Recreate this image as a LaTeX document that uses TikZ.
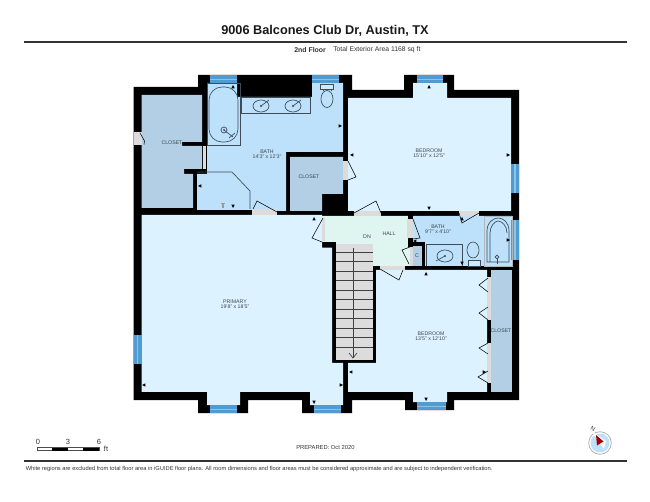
\documentclass[tikz,border=0pt]{standalone}
\usepackage{fontspec}
\setmainfont{Liberation Sans}
\definecolor{roomc}{HTML}{DCF2FF}
\definecolor{bathc}{HTML}{BDE0FB}
\definecolor{closetc}{HTML}{B2CFE6}
\definecolor{hallc}{HTML}{DFF5F0}
\definecolor{doorc}{HTML}{DCDCDC}
\definecolor{winc}{HTML}{4F9BD2}
\definecolor{winl}{HTML}{8CC4E6}
\definecolor{labelc}{HTML}{3A4650}
\definecolor{rulec}{HTML}{333333}
\definecolor{fixc}{HTML}{3C4C58}
\tikzset{
  x=0.75pt,y=-0.75pt,
  room/.style={fill=roomc},
  bathroom/.style={fill=bathc},
  closetroom/.style={fill=closetc},
  doorgap/.style={fill=doorc},
  leaf/.style={draw=black,line width=0.4pt},
  fixture/.style={draw=fixc,line width=0.5pt},
  rulerline/.style={draw=rulec,line width=1.3pt},
  lbl/.style={text=labelc,inner sep=0pt,font=\fontsize{3.9}{4}\selectfont},
  txt/.style={text=black!80,inner sep=0pt,font=\fontsize{5.1}{6}\selectfont},
  tread/.style={draw=black!75,line width=0.5pt}
}
\newcommand{\mk}[3]{\fill[black,shift={(#1,#2)},rotate=#3] (0,-2) -- (1.7,1.4) -- (-1.7,1.4) -- cycle;}
\newcommand{\winh}[3]{\fill[winc] (#1,#3) rectangle (#2,#3+7.5); \fill[winl] (#1,#3+3.2) rectangle (#2,#3+4.3);}
\newcommand{\winv}[3]{\fill[winc] (#3,#1) rectangle (#3+8,#2); \fill[winl] (#3+3.4,#1) rectangle (#3+4.6,#2);}
\begin{document}
\begin{tikzpicture}
\useasboundingbox (0,0) rectangle (650,502);
\fill[white] (0,0) rectangle (650,502);
% heading
\node[inner sep=0pt,font=\bfseries\fontsize{9.55}{11}\selectfont,text=black!90] (title) at (325,31) {9006 Balcones Club Dr, Austin, TX};
\draw[rulerline] (24,42) -- (627,42);
\node[txt,anchor=west,font=\bfseries\fontsize{5.2}{6}\selectfont] (floor) at (294,50) {2nd Floor};
\node[txt,anchor=west] (area) at (333,50) {Total Exterior Area 1168 sq ft};
% shell
\fill[black] (133.5,87) -- (198,87) -- (198,75) -- (352,75) -- (352,90) -- (404,90) -- (404,75) -- (454,75) -- (454,90) -- (519,90) -- (519,400) -- (454,400) -- (454,410) -- (405,410) -- (405,400) -- (352,400) -- (352,413) -- (302,413) -- (302,400) -- (248,400) -- (248,413) -- (198,413) -- (198,400) -- (133.5,400) -- cycle;
% rooms
\fill[closetroom] (141.7,95) -- (202,95) -- (202,142) -- (182,142) -- (182,146) -- (202,146) -- (202,169) -- (184,169) -- (184,174) -- (193,174) -- (193,208) -- (141.7,208) -- cycle;
\fill[bathroom] (207,83) -- (237,83) -- (237,97) -- (312,97) -- (312,83) -- (343,83) -- (343,152) -- (286,152) -- (286,211) -- (252,210) -- (197,210) -- (197,174) -- (207,174) -- cycle;
\fill[closetroom] (290,157) -- (343,157) -- (343,194) -- (322,194) -- (322,211) -- (290,211) -- cycle;
\fill[room] (348,98) -- (413,98) -- (413,83) -- (447,83) -- (447,98) -- (511,98) -- (511,211) -- (348,211) -- cycle;
\fill[room] (141.7,215) -- (322,215) -- (322,247.7) -- (332,247.7) -- (332,363) -- (343,363) -- (343,405) -- (310,405) -- (310,392) -- (240,392) -- (240,405) -- (207,405) -- (207,392) -- (141.7,392) -- cycle;
\fill[fill=hallc] (322,216) -- (408,216) -- (408,240) -- (410,247) -- (410,266) -- (373,266) -- (373,244) -- (336,244) -- (336,242) -- (322,242) -- cycle;
\fill[bathroom] (413,216) -- (512,216) -- (512,266) -- (425,266) -- (425,242) -- (413,242) -- cycle;
\fill[closetroom] (413,246) -- (421.5,246) -- (421.5,266) -- (413,266) -- cycle;
\fill[room] (376,270) -- (487,270) -- (487,392) -- (447,392) -- (447,402) -- (413,402) -- (413,392) -- (348,392) -- (348,363) -- (376,363) -- cycle;
\fill[closetroom] (491,270) -- (512,270) -- (512,392) -- (491,392) -- cycle;
% small wall patches
\fill[black] (408,216) rectangle (413,219);
\fill[black] (408,239) rectangle (413,247);
% stairs
\fill[doorc] (336,244) rectangle (372.5,360);
\foreach \yy in {252,261.5,271,280.5,290,299.5,309,318.5,328,337.5,347} \draw[tread] (336,\yy) -- (372.5,\yy);
\draw[tread] (353,248) -- (353,358);
\draw[tread] (349,353) -- (353,358) -- (357,353);
% windows
\winh{210}{237}{75.5}
\winh{312}{339}{75.5}
\winh{417}{443}{75.5}
\winh{210}{237}{405.3}
\winh{314}{341}{405.3}
\winh{417}{446}{402.3}
\winv{164}{193}{511}
\winv{220}{260}{511}
\winv{335}{364}{133.6}
% door openings
\fill[doorgap] (133.5,132) rectangle (141.7,145);
\fill[doorgap] (202.5,146) rectangle (206,169);
\fill[doorgap] (252,209) -- (277,209) -- (277,215) -- (252,215) -- cycle;
\fill[doorgap] (343,161) rectangle (348,180);
\fill[doorgap] (354,211) rectangle (381,216);
\fill[doorgap] (459,211) rectangle (479,216);
\fill[doorgap] (322,218) rectangle (325,242);
\fill[doorgap] (407,219.5) rectangle (413,238.5);
\fill[doorgap] (410,247) rectangle (413,266);
\fill[doorgap] (380,266) rectangle (405,270);
\fill[doorgap] (487,277) rectangle (491,320);
\fill[doorgap] (487,343) rectangle (491,383);
% door leaves
\draw[leaf] (140,133) -- (144.5,141) -- (144,144.5);
\draw[leaf] (253,209) -- (257,201) -- (277,212);
\draw[leaf] (348,161) -- (356,177) -- (348,180);
\draw[leaf] (354,213) -- (376,201) -- (381,213);
\draw[leaf] (323,218) -- (312,238) -- (322,242);
\draw[leaf] (413,219) -- (420,238) -- (413,239);
\draw[leaf] (479,213) -- (462,223) -- (459,213);
\draw[leaf] (410,247) -- (402,250) -- (409,264);
\draw[leaf] (380,269) -- (399,280) -- (403,270);
\draw[leaf] (488,278) -- (479,285) -- (488,292);
\draw[leaf] (488,307) -- (479,313) -- (488,320);
\draw[leaf] (488,343) -- (479,348) -- (488,354);
\draw[leaf] (488,371) -- (478,377) -- (488,383);
% fixtures bath 1
\draw[fixture] (207,83) rectangle (240,145);
\draw[fixture,rounded corners=9.75pt] (209,87) rectangle (238,142);
\draw[fixture] (224,130) circle (3);
\fill[fixc] (224,130) circle (1);
\draw[fixture] (224,130) -- (233,137);
\draw[fixture] (229,138) -- (235,133);
\draw[fixture] (241,97) rectangle (310,113);
\foreach \cx in {261,293}{
  \draw[fixture] (\cx,106) ellipse (8 and 6);
  \fill[fixc] (\cx,106) circle (1.1);
  \draw[fixture] (\cx,106) -- (\cx+8,100);
}
\draw[fixture,fill=bathc!70!white] (320,84) rectangle (333,89);
\draw[fixture] (327,99) ellipse (6 and 8.5);
\draw[fixture] (323,89) -- (323,91.5);
\draw[fixture] (331,89) -- (331,91.5);
\draw[fixture] (197,172) -- (232,172) -- (250,191) -- (250,209);
\draw[draw=black!40,line width=0.8pt] (223,203) -- (223,208);
\draw[draw=black!40,line width=0.5pt] (221,203) -- (225,203);
% fixtures bath 2
\draw[draw=white!60!fixc,line width=0.5pt] (484,216) rectangle (512,266);
\draw[fixture] (487,262) -- (487,231) .. controls (487,222) and (494,218) .. (498,218) .. controls (503,218) and (509,222) .. (509,231) -- (509,262) -- cycle;
\draw[fixture] (490,262) -- (490,233) .. controls (490,226) and (495,221) .. (498,221) .. controls (502,221) and (507,226) .. (507,233);
\draw[fixture] (497,257) circle (1.8);
\draw[fixture] (497,259) -- (497,264);
\draw[fixture] (426,266) -- (426,244) -- (462,244) -- (462,266);
\draw[fixture] (445,256) ellipse (8 and 6);
\fill[fixc] (445,256) circle (1.1);
\draw[fixture] (445,256) -- (436,261);
\draw[fixture] (473,250) ellipse (6 and 8);
\draw[fixture,fill=bathc!70!white] (468,260) rectangle (480,266);
% position marks
\mk{233}{87}{0}
\mk{340}{126}{-90}
\mk{352}{155}{90}
\mk{200}{186}{90}
\mk{233}{206}{180}
\mk{314}{219}{0}
\mk{429}{87}{0}
\mk{508}{155}{-90}
\mk{429}{208}{180}
\mk{462}{219}{0}
\mk{415}{241}{90}
\mk{508}{240}{-90}
\mk{426}{274}{0}
\mk{462}{263}{180}
\mk{351}{372}{90}
\mk{144}{385}{90}
\mk{341}{385}{-90}
\mk{314}{402}{180}
\mk{426}{399}{180}
\mk{484}{372}{-90}
% room labels
\node[lbl] (closeta) at (172,143) {CLOSET};
\node[lbl] (batha) at (267,152) {BATH};
\node[lbl] (bathadim) at (267,157) {14'3" x 12'3"};
\node[lbl] (closetb) at (309,177) {CLOSET};
\node[lbl] (beda) at (429,151) {BEDROOM};
\node[lbl] (bedadim) at (429,156) {15'10" x 12'5"};
\node[lbl] (hall) at (389,234) {HALL};
\node[lbl] (dn) at (367,237) {DN};
\node[lbl] (bathb) at (438,227) {BATH};
\node[lbl] (bathbdim) at (438,232) {9'7" x 4'10"};
\node[lbl] (closetc) at (417,256) {C};
\node[lbl] (closetd) at (501,331) {CLOSET};
\node[lbl] (bedb) at (431,334) {BEDROOM};
\node[lbl] (bedbdim) at (431,339) {13'5" x 12'10"};
\node[lbl] (primary) at (235,302) {PRIMARY};
\node[lbl] (primarydim) at (235,307) {19'8" x 18'5"};
% scale bar
\draw[draw=black!70,line width=0.4pt,fill=white] (37,447.5) rectangle (99,450.5);
\fill[black] (52,447.5) rectangle (68,450.5);
\fill[black] (83,447.5) rectangle (99,450.5);
\node[txt,font=\fontsize{5.6}{6}\selectfont] (s0) at (38,442) {0};
\node[txt,font=\fontsize{5.6}{6}\selectfont] (s3) at (68,442) {3};
\node[txt,font=\fontsize{5.6}{6}\selectfont] (s6) at (99,442) {6};
\node[txt,font=\fontsize{5.6}{6}\selectfont] (sft) at (106,449) {ft};
\node[txt,anchor=west,font=\fontsize{4.35}{6}\selectfont] (prep) at (296,448) {PREPARED: Oct 2020};
% compass
\draw[draw=black!30,line width=0.6pt,fill=white] (600,443) circle (11.3);
\fill[fill=bathc] (600,443) circle (9.5);
\fill[white] (591,431) -- (606,441) -- (604,449) -- cycle;
\fill[fill=red!65!black] (596,435) -- (603.5,441.5) -- (597,445.5) -- cycle;
\node[inner sep=0pt,rotate=-30,text=black!80,font=\fontsize{4.5}{5}\selectfont] (north) at (593,429) {N};
% footer
\draw[rulerline] (24,461) -- (627,461);
\node[txt,anchor=west,font=\fontsize{4.3}{6}\selectfont] (note) at (25.5,469) {White regions are excluded from total floor area in iGUIDE floor plans. All room dimensions and floor areas must be considered approximate and are subject to independent verification.};
\end{tikzpicture}
\end{document}
